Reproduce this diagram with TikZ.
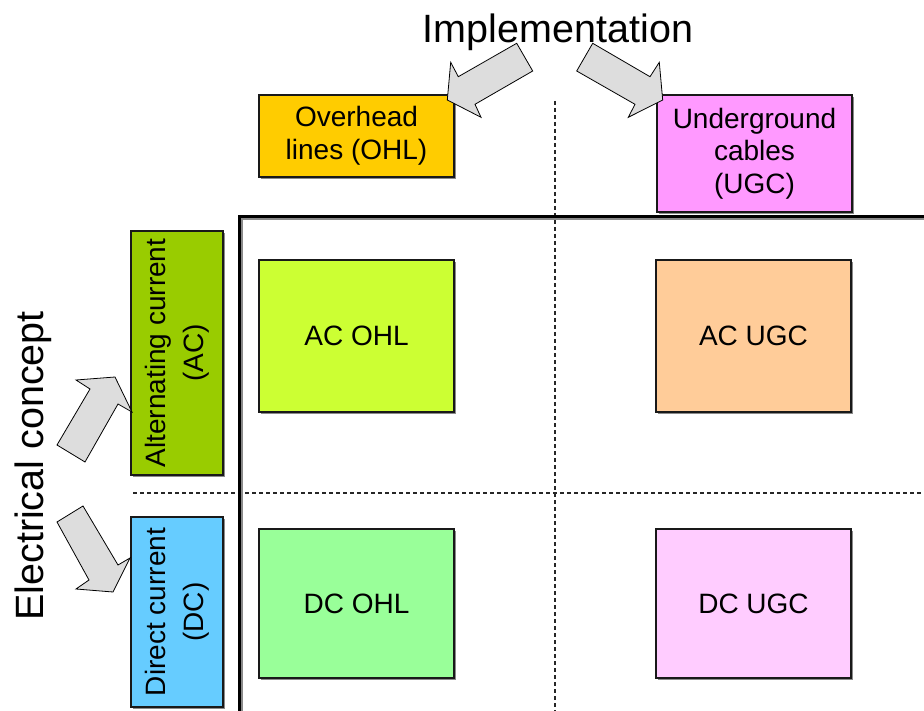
\documentclass[tikz,border=0pt]{standalone}
\usepackage{fontspec}
\setmainfont{Liberation Sans}
\usetikzlibrary{shadows}
\definecolor{cOHL}{HTML}{FFCC00}
\definecolor{cUGC}{HTML}{FF99FF}
\definecolor{cAC}{HTML}{99CC00}
\definecolor{cDC}{HTML}{66CCFF}
\definecolor{cACOHL}{HTML}{CCFF33}
\definecolor{cACUGC}{HTML}{FFCC99}
\definecolor{cDCOHL}{HTML}{99FF99}
\definecolor{cDCUGC}{HTML}{FFCCFF}
\definecolor{arrowgray}{HTML}{DDDDDD}
\definecolor{shadowgray}{HTML}{8A8A8A}
\begin{document}
\begin{tikzpicture}[x=1pt,y=-1pt,
  box/.style={draw=black!90, line width=2pt, inner sep=0pt, align=center,
    font=\fontsize{28}{32.5}\selectfont,
    drop shadow={shadow xshift=2pt, shadow yshift=-2pt, fill=shadowgray, opacity=1}},
  vtext/.style={rotate=90, align=center, inner sep=0pt, font=\fontsize{28}{38}\selectfont},
  title/.style={inner sep=0pt, font=\fontsize{39.5}{44}\selectfont},
  blockarrow/.style={draw=black, line width=0.8pt, fill=arrowgray, line join=miter},
  divider/.style={dashed, dash pattern=on 4pt off 3pt, line width=1.3pt, black!85},
  axis/.style={line width=3pt, black},
  axisshadow/.style={line width=3pt, shadowgray}]
\useasboundingbox (0,0) rectangle (924,711);

% dashed dividers
\coordinate (dvtop) at (555,101);
\coordinate (dvbot) at (555,711);
\coordinate (dhl) at (133,493);
\coordinate (dhr) at (924,493);
\draw[divider] (dvtop) -- (dvbot);
\draw[divider] (dhl) -- (dhr);

% thick axes with shadow
\coordinate (axb) at (239,711);
\coordinate (axc) at (239,217);
\coordinate (axr) at (924,217);
\draw[axisshadow] ([shift={(2,2)}]axb) -- ([shift={(2,2)}]axc) -- ([shift={(2,2)}]axr);
\draw[axis] (axb) -- (axc) -- (axr);

% header boxes
\node[box, fill=cOHL, minimum width=195, minimum height=82] (ohl) at (356.5,136) {Overhead\\lines (OHL)};
\node[box, fill=cUGC, minimum width=195, minimum height=117] (ugc) at (754.5,153.5) {Underground\\cables\\(UGC)};

% side boxes
\node[box, fill=cAC, minimum width=92, minimum height=244] (ac) at (177,353) {};
\node[vtext] (actext) at (ac.center) {Alternating current\\(AC)};
\node[box, fill=cDC, minimum width=92, minimum height=190] (dc) at (177,612) {};
\node[vtext] (dctext) at (dc.center) {Direct current\\(DC)};

% matrix boxes
\node[box, fill=cACOHL, minimum width=195, minimum height=151] (acohl) at (356.5,336) {AC OHL};
\node[box, fill=cACUGC, minimum width=195, minimum height=151] (acugc) at (753.5,336) {AC UGC};
\node[box, fill=cDCOHL, minimum width=195, minimum height=149] (dcohl) at (356.5,603.5) {DC OHL};
\node[box, fill=cDCUGC, minimum width=195, minimum height=149] (dcugc) at (753.5,603.5) {DC UGC};

% titles
\node[title, anchor=base] (impl) at (558,43) {Implementation};
\node[title, anchor=base, rotate=90] (elec) at (43,466) {Electrical concept};

% block arrows
\draw[blockarrow] (516.7,43.3) -- (458.3,76.7) -- (450.7,62.3) -- (447.3,100) -- (481,117.3) -- (475,104.3) -- (532.7,71) -- cycle;
\draw[blockarrow] (592.7,43.3) -- (650,76.7) -- (659.3,62.3) -- (662.7,100) -- (628.3,117.3) -- (635,104.3) -- (576.7,71) -- cycle;
\draw[blockarrow] (57,445) -- (90,389) -- (76,380) -- (115,377) -- (132,412) -- (118,404) -- (85,462) -- cycle;
\draw[blockarrow] (83,506) -- (118,565) -- (130,558) -- (113,592) -- (76,589) -- (89,580) -- (57,522) -- cycle;
\end{tikzpicture}
\end{document}
